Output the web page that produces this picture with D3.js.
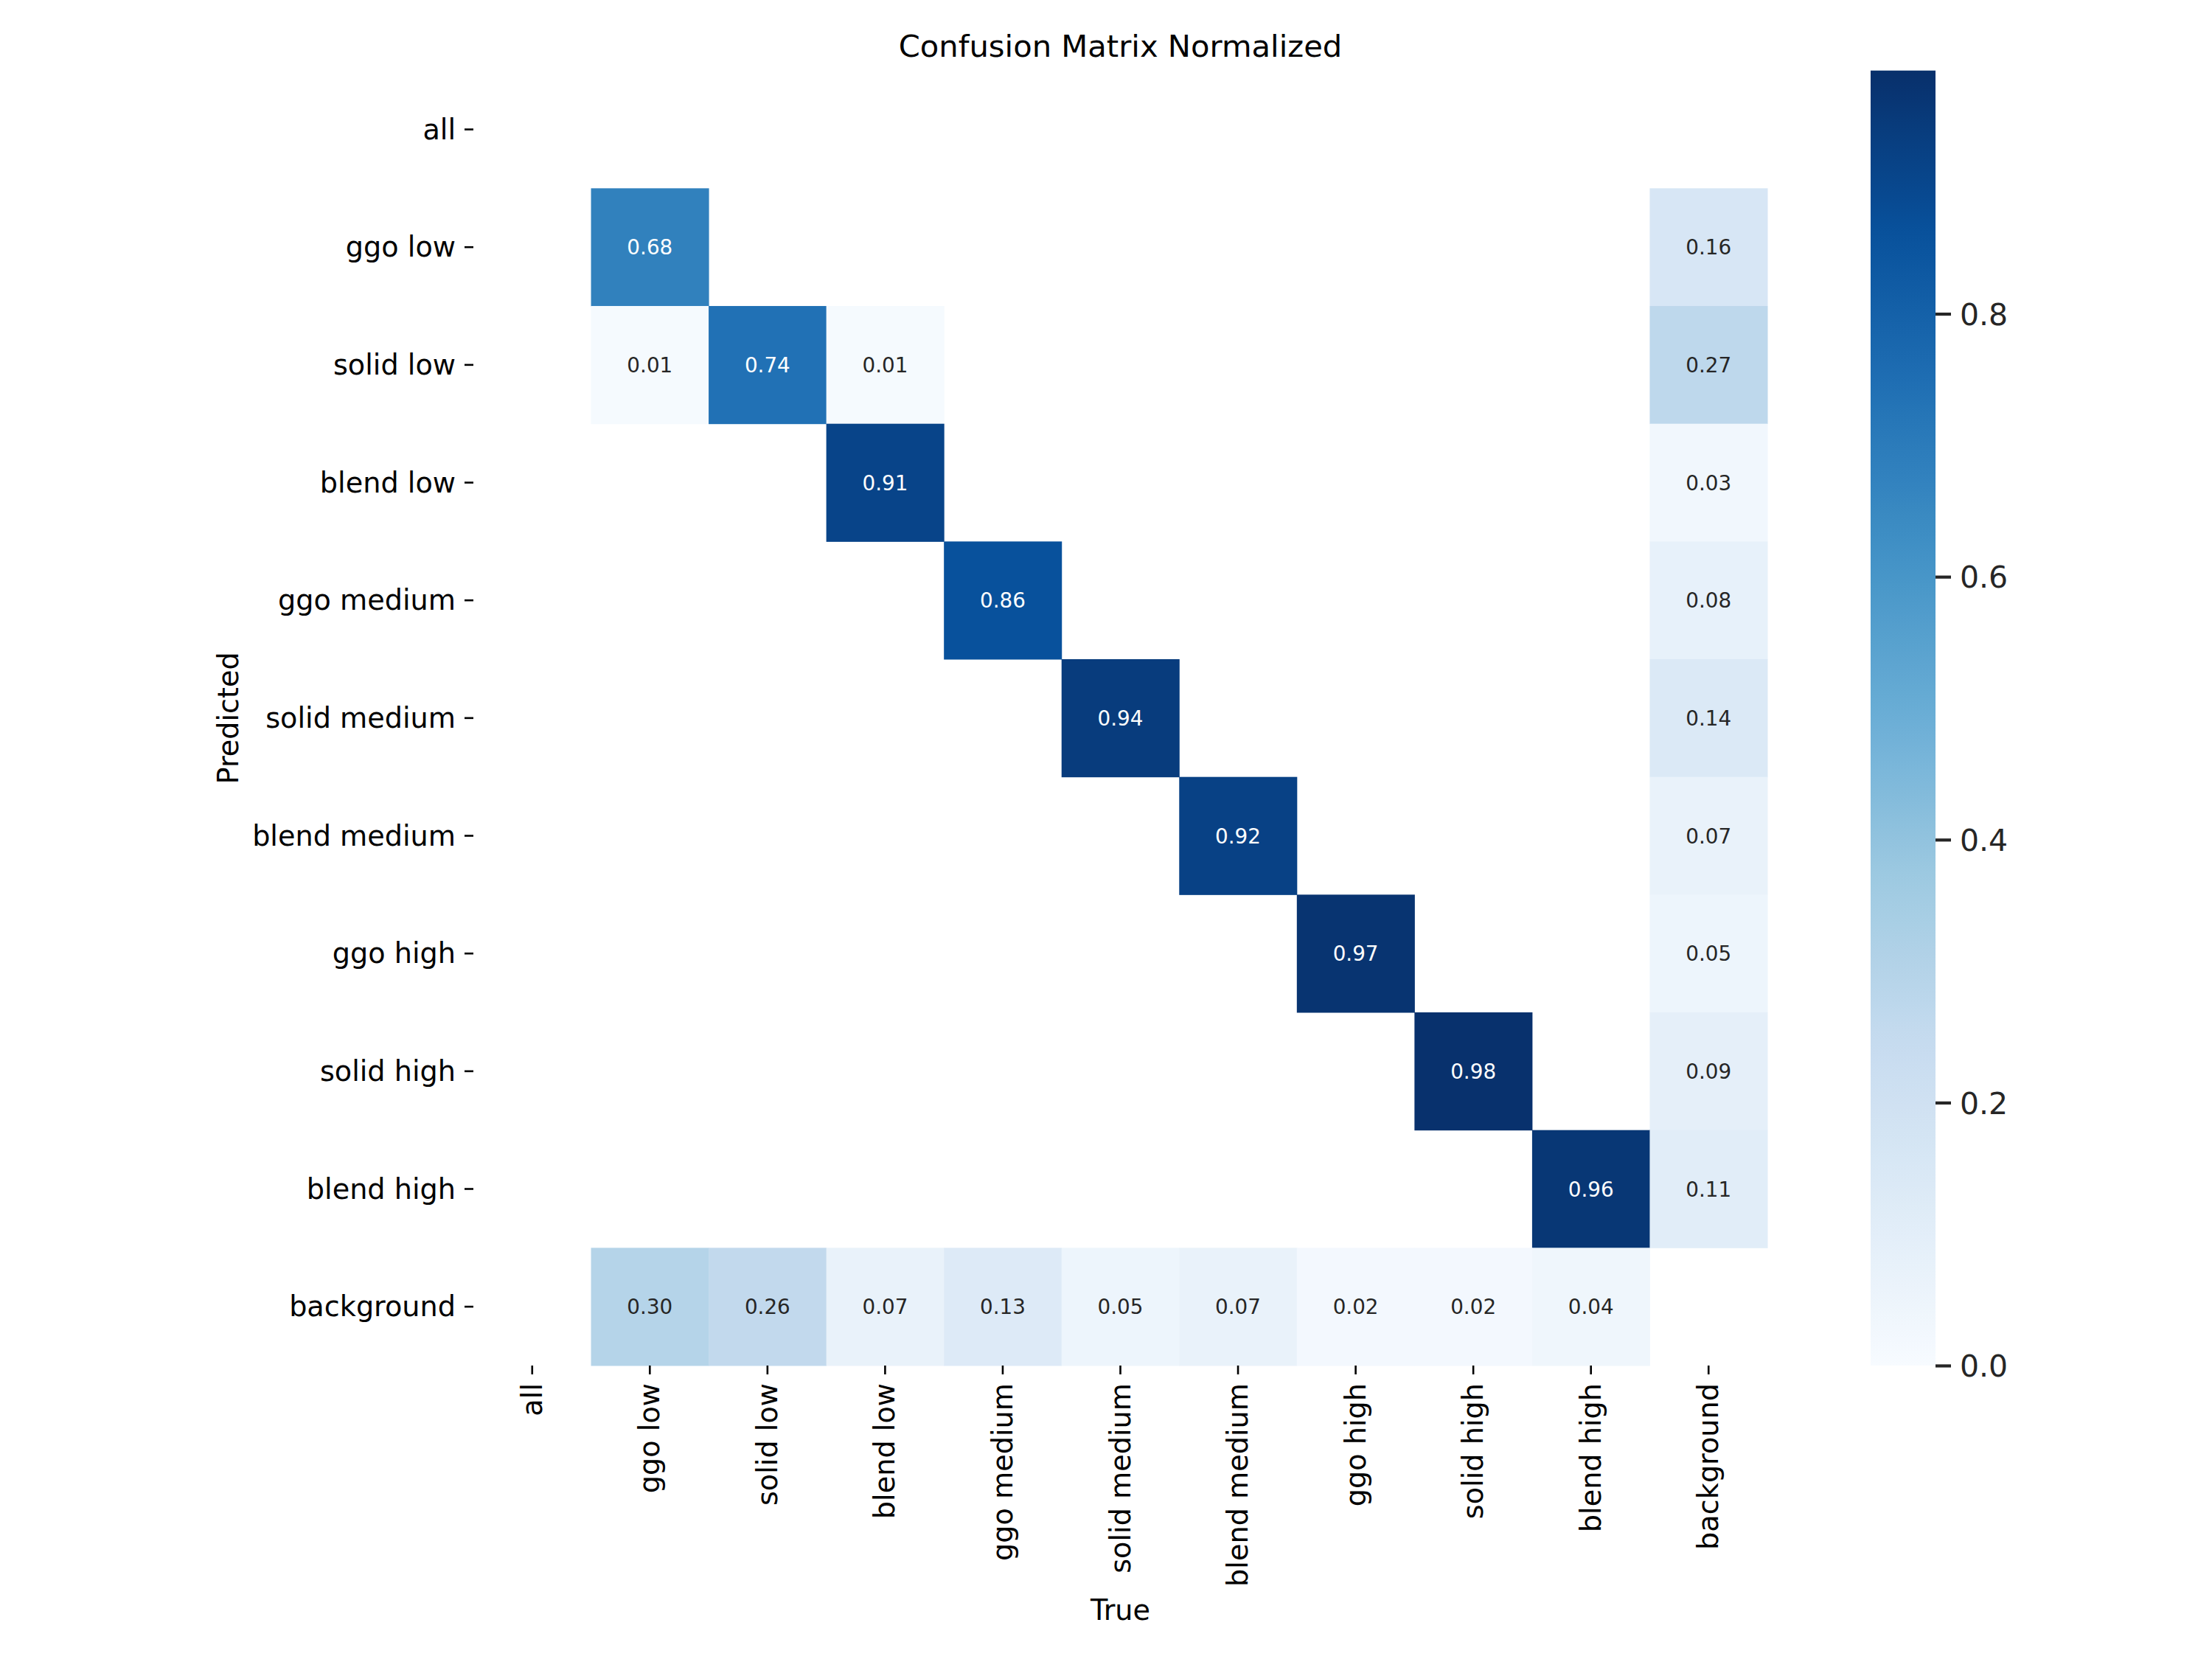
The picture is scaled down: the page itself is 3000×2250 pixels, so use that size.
<!DOCTYPE html>
<html>
<head>
<meta charset="utf-8">
<script src="https://cdn.jsdelivr.net/npm/d3@7"></script>
<style>
  html, body { margin: 0; padding: 0; background: #ffffff; }
  svg { display: block; }
  text { font-family: "DejaVu Sans", sans-serif; }
</style>
</head>
<body>
<script>
// ---------- data ----------
const categories = ["all", "ggo low", "solid low", "blend low", "ggo medium", "solid medium",
                    "blend medium", "ggo high", "solid high", "blend high", "background"];
// rows = Predicted, columns = True; null = empty (value below 0.005)
const rowAll          = [null, null, null, null, null, null, null, null, null, null, null];
const rowGgoLow       = [null, 0.68, null, null, null, null, null, null, null, null, 0.16];
const rowSolidLow     = [null, 0.01, 0.74, 0.01, null, null, null, null, null, null, 0.27];
const rowBlendLow     = [null, null, null, 0.91, null, null, null, null, null, null, 0.03];
const rowGgoMedium    = [null, null, null, null, 0.86, null, null, null, null, null, 0.08];
const rowSolidMedium  = [null, null, null, null, null, 0.94, null, null, null, null, 0.14];
const rowBlendMedium  = [null, null, null, null, null, null, 0.92, null, null, null, 0.07];
const rowGgoHigh      = [null, null, null, null, null, null, null, 0.97, null, null, 0.05];
const rowSolidHigh    = [null, null, null, null, null, null, null, null, 0.98, null, 0.09];
const rowBlendHigh    = [null, null, null, null, null, null, null, null, null, 0.96, 0.11];
const rowBackground   = [null, 0.30, 0.26, 0.07, 0.13, 0.05, 0.07, 0.02, 0.02, 0.04, null];
const matrixRows = [rowAll, rowGgoLow, rowSolidLow, rowBlendLow, rowGgoMedium, rowSolidMedium,
                    rowBlendMedium, rowGgoHigh, rowSolidHigh, rowBlendHigh, rowBackground];
const colorbarTicks = [0.0, 0.2, 0.4, 0.6, 0.8];
const colorMin = 0.0, colorMax = 0.985;
const titleText = "Confusion Matrix Normalized";
const xLabelText = "True";
const yLabelText = "Predicted";
// matplotlib "Blues" anchor colours
const bluesAnchors = ["#f7fbff","#deebf7","#c6dbef","#9ecae1","#6baed6","#4292c6","#2171b5","#08519c","#08306b"];

// ---------- layout ----------
const W = 3000, H = 2250;
const hmLeft = 642, hmRight = 2397, hmTop = 95.7, hmBottom = 1852;
const cbLeft = 2537, cbRight = 2625;

const svg = d3.select("body").append("svg").attr("width", W).attr("height", H);
svg.append("rect").attr("width", W).attr("height", H).attr("fill", "#ffffff");

const x = d3.scaleBand().domain(categories).range([hmLeft, hmRight]).padding(0);
const y = d3.scaleBand().domain(categories).range([hmTop, hmBottom]).padding(0);

const color = d3.scaleLinear()
  .domain(d3.range(bluesAnchors.length).map(i => colorMin + (colorMax - colorMin) * i / (bluesAnchors.length - 1)))
  .range(bluesAnchors)
  .interpolate(d3.interpolateRgb)
  .clamp(true);

function luminance(c) {
  const rgb = d3.rgb(c);
  const f = v => { v /= 255; return v <= 0.03928 ? v / 12.92 : Math.pow((v + 0.055) / 1.055, 2.4); };
  return 0.2126 * f(rgb.r) + 0.7152 * f(rgb.g) + 0.0722 * f(rgb.b);
}

const cells = [];
matrixRows.forEach((row, i) => row.forEach((v, j) => {
  if (v !== null) cells.push({ r: categories[i], c: categories[j], v });
}));

const gCells = svg.append("g");
gCells.selectAll("rect").data(cells).enter().append("rect")
  .attr("x", d => x(d.c)).attr("y", d => y(d.r))
  .attr("width", x.bandwidth() + 0.5).attr("height", y.bandwidth() + 0.5)
  .attr("fill", d => color(d.v));

gCells.selectAll("text").data(cells).enter().append("text")
  .attr("x", d => x(d.c) + x.bandwidth() / 2)
  .attr("y", d => y(d.r) + y.bandwidth() / 2)
  .attr("dy", "0.36em")
  .attr("text-anchor", "middle")
  .attr("font-size", 27.8)
  .attr("fill", d => luminance(color(d.v)) > 0.408 ? "#262626" : "#ffffff")
  .text(d => d3.format(".2f")(d.v));

// ---------- axes ----------
const yAxis = svg.append("g").attr("transform", `translate(${hmLeft},0)`)
  .call(d3.axisLeft(y).tickSize(12).tickPadding(12));
yAxis.select(".domain").remove();
yAxis.selectAll(".tick line").attr("stroke", "#000").attr("stroke-width", 2.6);
yAxis.selectAll(".tick text").attr("font-size", 38.2).attr("fill", "#000")
  .attr("font-family", "DejaVu Sans").attr("dy", "0.34em");

const xAxis = svg.append("g").attr("transform", `translate(0,${hmBottom})`)
  .call(d3.axisBottom(x).tickSize(12).tickPadding(12));
xAxis.select(".domain").remove();
xAxis.selectAll(".tick line").attr("stroke", "#000").attr("stroke-width", 2.6);
xAxis.selectAll(".tick text")
  .attr("font-size", 38.2).attr("fill", "#000").attr("font-family", "DejaVu Sans")
  .attr("transform", "rotate(-90)")
  .attr("text-anchor", "end")
  .attr("x", -24).attr("y", 0).attr("dy", "0.34em");

// ---------- labels ----------
svg.append("text").attr("x", (hmLeft + hmRight) / 2).attr("y", 77)
  .attr("text-anchor", "middle").attr("font-size", 41.7).attr("fill", "#000").text(titleText);
svg.append("text").attr("x", (hmLeft + hmRight) / 2).attr("y", 2197)
  .attr("text-anchor", "middle").attr("font-size", 38.2).attr("fill", "#000").text(xLabelText);
svg.append("text").attr("transform", `translate(323,${(hmTop + hmBottom) / 2}) rotate(-90)`)
  .attr("text-anchor", "middle").attr("font-size", 38.2).attr("fill", "#000").text(yLabelText);

// ---------- colorbar ----------
const cbScale = d3.scaleLinear().domain([colorMin, colorMax]).range([hmBottom, hmTop]);
const defs = svg.append("defs");
const grad = defs.append("linearGradient").attr("id", "cbgrad")
  .attr("x1", 0).attr("y1", 1).attr("x2", 0).attr("y2", 0);
d3.range(0, 1.0001, 0.02).forEach(t => {
  grad.append("stop").attr("offset", t).attr("stop-color", color(colorMin + t * (colorMax - colorMin)));
});
svg.append("rect").attr("x", cbLeft).attr("y", hmTop)
  .attr("width", cbRight - cbLeft).attr("height", hmBottom - hmTop)
  .attr("fill", "url(#cbgrad)");
const cbAxis = svg.append("g").attr("transform", `translate(${cbRight},0)`)
  .call(d3.axisRight(cbScale).tickValues(colorbarTicks).tickFormat(d3.format(".1f")).tickSize(21).tickPadding(12));
cbAxis.select(".domain").remove();
cbAxis.selectAll(".tick line").attr("stroke", "#262626").attr("stroke-width", 4.2);
cbAxis.selectAll(".tick text").attr("font-size", 41).attr("fill", "#262626")
  .attr("font-family", "DejaVu Sans").attr("dy", "0.36em");
</script>
</body>
</html>
